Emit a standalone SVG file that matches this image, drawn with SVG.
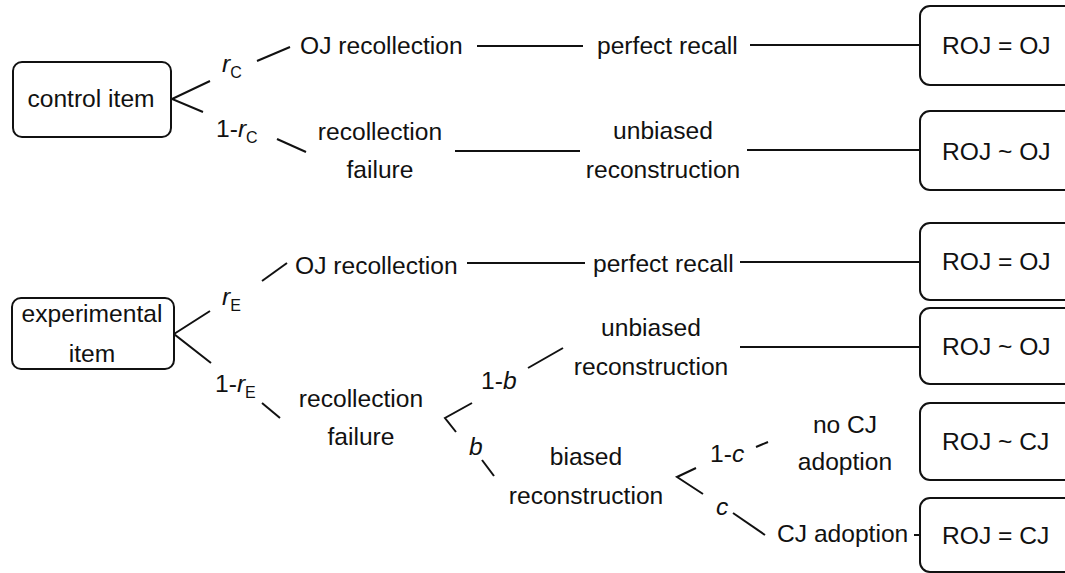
<svg xmlns="http://www.w3.org/2000/svg" width="1065" height="573" viewBox="0 0 1065 573">
<style>
text{font-family:"Liberation Sans",Arial,sans-serif;font-size:24.6px;fill:#111}
.m{text-anchor:middle}
.i{font-style:italic}
.s{font-size:16px;font-style:normal}
.box{fill:#fff;stroke:#111;stroke-width:2}
.c line,.c polyline{stroke:#111;stroke-width:2;fill:none}
</style>
<rect width="1065" height="573" fill="#fff"/>
<g class="c" id="connectors">
<polyline points="210,81 172,99 203,112"/>
<line x1="257" y1="61" x2="290" y2="47"/>
<line x1="277" y1="139" x2="306" y2="152"/>
<line x1="477" y1="46" x2="583" y2="46"/>
<line x1="750" y1="45" x2="920" y2="45"/>
<line x1="455" y1="151" x2="580" y2="151"/>
<line x1="747" y1="150" x2="920" y2="150"/>
<polyline points="210,311 174,334 211,363"/>
<line x1="262" y1="281" x2="287" y2="263"/>
<line x1="262" y1="403" x2="280" y2="418"/>
<line x1="467" y1="263" x2="585" y2="263"/>
<line x1="740" y1="262" x2="920" y2="262"/>
<polyline points="472,403 445,418 456,432"/>
<line x1="528" y1="368" x2="563" y2="348"/>
<line x1="740" y1="347" x2="920" y2="347"/>
<line x1="482" y1="460" x2="494" y2="476"/>
<polyline points="696,468 677,477 703,494"/>
<line x1="756" y1="447" x2="768" y2="442"/>
<line x1="733" y1="513" x2="765" y2="535"/>
<line x1="914" y1="535" x2="920" y2="535"/>
</g>
<g id="control-item"><rect class="box" x="13" y="62" width="158" height="75" rx="9"/><text class="m" x="91" y="107">control item</text></g>
<g id="experimental-item"><rect class="box" x="12" y="298" width="162" height="71" rx="9"/><text class="m" x="92" y="322">experimental</text><text class="m" x="92" y="362">item</text></g>
<g id="labels-control">
<text class="i" x="222" y="72">r<tspan class="s" dy="6">C</tspan></text>
<text x="216" y="137">1-<tspan class="i">r</tspan><tspan class="s" dy="6">C</tspan></text>
<text x="300" y="54">OJ recollection</text>
<text class="m" x="380" y="140">recollection</text>
<text class="m" x="380" y="178">failure</text>
<text x="597" y="54">perfect recall</text>
<text class="m" x="663" y="139">unbiased</text>
<text class="m" x="663" y="178">reconstruction</text>
</g>
<g id="labels-experimental">
<text class="i" x="222" y="305">r<tspan class="s" dy="6">E</tspan></text>
<text x="215" y="392">1-<tspan class="i">r</tspan><tspan class="s" dy="6">E</tspan></text>
<text x="295" y="274">OJ recollection</text>
<text class="m" x="361" y="407">recollection</text>
<text class="m" x="361" y="445">failure</text>
<text x="593" y="272">perfect recall</text>
<text x="481" y="389">1-<tspan class="i">b</tspan></text>
<text class="i" x="469" y="455">b</text>
<text class="m" x="651" y="336">unbiased</text>
<text class="m" x="651" y="375">reconstruction</text>
<text class="m" x="586" y="465">biased</text>
<text class="m" x="586" y="504">reconstruction</text>
<text x="710" y="462">1-<tspan class="i">c</tspan></text>
<text class="i" x="716" y="515">c</text>
<text class="m" x="845" y="433">no CJ</text>
<text class="m" x="845" y="470">adoption</text>
<text x="777" y="542">CJ adoption</text>
</g>
<g id="out1"><rect class="box" x="920" y="6" width="160" height="79" rx="10"/><text x="942" y="54">ROJ = OJ</text></g>
<g id="out2"><rect class="box" x="920" y="111" width="160" height="79" rx="10"/><text x="942" y="160">ROJ ~ OJ</text></g>
<g id="out3"><rect class="box" x="920" y="223" width="160" height="77" rx="10"/><text x="942" y="270">ROJ = OJ</text></g>
<g id="out4"><rect class="box" x="920" y="308" width="160" height="76" rx="10"/><text x="942" y="355">ROJ ~ OJ</text></g>
<g id="out5"><rect class="box" x="920" y="403" width="160" height="77" rx="10"/><text x="942" y="450">ROJ ~ CJ</text></g>
<g id="out6"><rect class="box" x="920" y="498" width="160" height="74" rx="10"/><text x="942" y="544">ROJ = CJ</text></g>
</svg>
